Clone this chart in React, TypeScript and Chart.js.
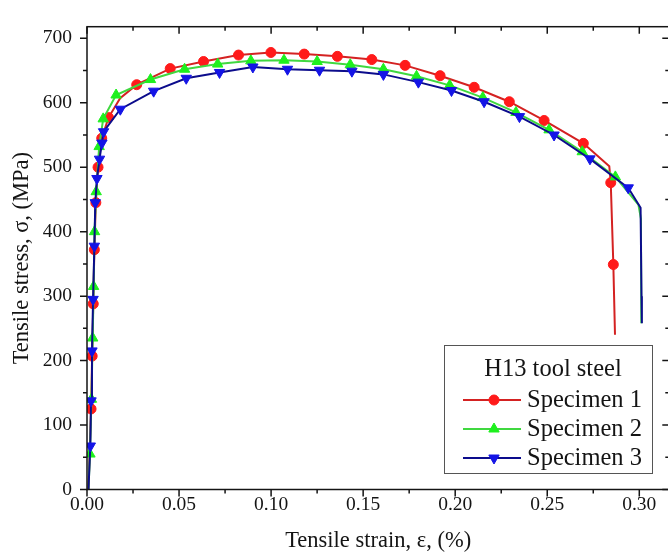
import React, { useEffect, useRef } from "react";
import { Chart, registerables } from "chart.js";

Chart.register(...registerables);

// ---------- data ----------
const xTicks = [0, 0.05, 0.1, 0.15, 0.2, 0.25, 0.3];
const xMinor = [0.025, 0.075, 0.125, 0.175, 0.225, 0.275];
const yTicks = [0, 100, 200, 300, 400, 500, 600, 700];
const yMinor = [50, 150, 250, 350, 450, 550, 650];

const xTitle = "Tensile strain, \u03b5, (%)";
const yTitle = "Tensile stress, \u03c3, (MPa)";
const legendTitle = "H13 tool steel";
const seriesNames = ["Specimen 1", "Specimen 2", "Specimen 3"];

// Specimen 1
const strain1 = [0.0008, 0.0022, 0.0028, 0.0034, 0.004, 0.0048, 0.006, 0.008, 0.0117, 0.018, 0.027, 0.0452, 0.0633, 0.0823, 0.0999, 0.118, 0.136, 0.1547, 0.1728, 0.1918, 0.2103, 0.2294, 0.2483, 0.2696, 0.2837, 0.2845, 0.2859, 0.2868];
const stress1 = [0, 125, 207, 288, 372, 445, 500, 545, 577, 607, 628, 653, 664, 674, 678, 675.5, 672, 667, 658, 642, 624, 601.6, 572.5, 537, 501.5, 476, 349, 240];
const plain1 = [0, 9, 24, 27];

// Specimen 2
const strain2 = [0.0008, 0.0016, 0.0024, 0.0031, 0.0036, 0.0041, 0.005, 0.0066, 0.0088, 0.0158, 0.0345, 0.053, 0.071, 0.089, 0.107, 0.125, 0.143, 0.161, 0.179, 0.197, 0.215, 0.233, 0.251, 0.269, 0.287, 0.2995, 0.3009, 0.3011];
const stress2 = [0, 55, 140, 235, 315, 400, 462, 532, 575, 612, 636, 652, 660, 665, 666, 664, 659, 652, 641, 627, 608, 585, 558, 524, 485, 442, 420, 258];
const plain2 = [0, 25, 26, 27];

// Specimen 3
const strain3 = [0.0008, 0.0018, 0.0022, 0.0027, 0.0033, 0.004, 0.0045, 0.0054, 0.0068, 0.0081, 0.009, 0.0181, 0.0362, 0.0539, 0.072, 0.0901, 0.1089, 0.1263, 0.1439, 0.161, 0.18, 0.198, 0.2157, 0.2349, 0.2537, 0.2732, 0.294, 0.3007, 0.3012, 0.3014];
const stress3 = [0, 67.5, 137.5, 215, 295, 377.5, 445, 482.5, 512.5, 537.5, 555, 590, 618, 638, 647, 655.5, 652, 650.5, 649, 644, 632, 619, 601.6, 578.5, 550, 513, 468, 437, 300, 258];
const plain3 = [0, 27, 28, 29];

const X_MAX = 0.3163;
const Y_MAX = 718;

const FONT = "'Liberation Serif', 'Times New Roman', serif";
const INK = "#141414";

type Spec = {
  name: string;
  xs: number[];
  ys: number[];
  plain: number[];
  line: string;
  mark: string;
  style: "circle" | "triangle";
  rot: number;
  r: number;
  order: number;
};

const specs: Spec[] = [
  { name: seriesNames[0], xs: strain1, ys: stress1, plain: plain1, line: "#d42222", mark: "#ff1a1a", style: "circle", rot: 0, r: 5, order: 3 },
  { name: seriesNames[1], xs: strain2, ys: stress2, plain: plain2, line: "#40d840", mark: "#1ef01e", style: "triangle", rot: 0, r: 6, order: 2 },
  { name: seriesNames[2], xs: strain3, ys: stress3, plain: plain3, line: "#0c0c8c", mark: "#1414e6", style: "triangle", rot: 180, r: 6, order: 1 },
];

function drawMarker(ctx: CanvasRenderingContext2D, s: Spec, x: number, y: number) {
  ctx.beginPath();
  if (s.style === "circle") {
    ctx.arc(x, y, s.r, 0, Math.PI * 2);
  } else {
    let rad = (s.rot * Math.PI) / 180;
    ctx.moveTo(x + Math.sin(rad) * s.r, y - Math.cos(rad) * s.r);
    rad += (2 * Math.PI) / 3;
    ctx.lineTo(x + Math.sin(rad) * s.r, y - Math.cos(rad) * s.r);
    rad += (2 * Math.PI) / 3;
    ctx.lineTo(x + Math.sin(rad) * s.r, y - Math.cos(rad) * s.r);
    ctx.closePath();
  }
  ctx.fillStyle = s.mark;
  ctx.strokeStyle = s.mark;
  ctx.lineWidth = 1;
  ctx.fill();
  ctx.stroke();
}

const framePlugin = {
  id: "frame",
  afterDatasetsDraw(chart: any) {
    const { ctx, chartArea: a, scales } = chart;
    const x = scales.x;
    const y = scales.y;
    ctx.save();
    ctx.strokeStyle = INK;
    ctx.lineWidth = 1.5;
    ctx.strokeRect(a.left, a.top, a.right - a.left, a.bottom - a.top);
    const MAJ = 7;
    const MIN = 4;
    ctx.beginPath();
    const xt = (vals: number[], len: number) => {
      vals.forEach((v) => {
        const px = x.getPixelForValue(v);
        ctx.moveTo(px, a.bottom);
        ctx.lineTo(px, a.bottom + len);
        ctx.moveTo(px, a.top);
        ctx.lineTo(px, a.top + len);
      });
    };
    const yt = (vals: number[], len: number) => {
      vals.forEach((v) => {
        const py = y.getPixelForValue(v);
        ctx.moveTo(a.left, py);
        ctx.lineTo(a.left - len, py);
        ctx.moveTo(a.right, py);
        ctx.lineTo(a.right - len, py);
      });
    };
    xt(xTicks, MAJ);
    xt(xMinor, MIN);
    yt(yTicks, MAJ);
    yt(yMinor, MIN);
    ctx.stroke();
    ctx.restore();
  },
  afterDraw(chart: any) {
    const { ctx } = chart;
    ctx.save();
    const bx = 444, by = 345, bw = 208, bh = 128;
    ctx.fillStyle = "#ffffff";
    ctx.fillRect(bx, by, bw, bh);
    ctx.strokeStyle = "#555555";
    ctx.lineWidth = 1;
    ctx.strokeRect(bx + 0.5, by + 0.5, bw, bh);
    ctx.fillStyle = INK;
    ctx.font = `24.5px ${FONT}`;
    ctx.textBaseline = "middle";
    ctx.textAlign = "center";
    ctx.fillText(legendTitle, 553, 370);
    ctx.textAlign = "left";
    specs.forEach((s, i) => {
      const ry = 400 + i * 29;
      ctx.strokeStyle = s.line;
      ctx.lineWidth = 2;
      ctx.beginPath();
      ctx.moveTo(463, ry);
      ctx.lineTo(521, ry);
      ctx.stroke();
      drawMarker(ctx, s, 494, ry);
      ctx.fillStyle = INK;
      ctx.font = `24.5px ${FONT}`;
      ctx.fillText(s.name, 527, ry + 1);
    });
    ctx.restore();
  },
};

export default function App() {
  const ref = useRef<HTMLCanvasElement | null>(null);

  useEffect(() => {
    if (!ref.current) return;
    const datasets = specs.map((s) => ({
      label: s.name,
      order: s.order,
      data: s.xs.map((v, i) => ({ x: v, y: s.ys[i] })),
      showLine: true,
      borderColor: s.line,
      borderWidth: 2,
      backgroundColor: s.mark,
      pointBackgroundColor: s.mark,
      pointBorderColor: s.mark,
      pointBorderWidth: 1,
      pointStyle: s.style,
      pointRotation: s.rot,
      pointRadius: (c: any) => (s.plain.includes(c.dataIndex) ? 0 : s.r),
      pointHoverRadius: (c: any) => (s.plain.includes(c.dataIndex) ? 0 : s.r),
      tension: 0,
    }));

    const chart = new Chart(ref.current, {
      type: "scatter",
      data: { datasets },
      plugins: [framePlugin],
      options: {
        animation: false,
        responsive: false,
        devicePixelRatio: 1,
        events: [],
        layout: { padding: { top: 13.3, right: 2.7, left: 0, bottom: 0 } },
        plugins: { legend: { display: false }, tooltip: { enabled: false } },
        scales: {
          x: {
            type: "linear",
            min: 0,
            max: X_MAX,
            afterFit: (s: any) => {
              s.height = 66.5;
            },
            afterBuildTicks: (s: any) => {
              s.ticks = xTicks.map((v) => ({ value: v }));
            },
            grid: { display: false, drawTicks: false, tickLength: 0 },
            border: { display: false },
            ticks: {
              padding: 4,
              color: INK,
              font: { family: FONT, size: 19.5 },
              callback: (v: any) => Number(v).toFixed(2),
              maxRotation: 0,
              autoSkip: false,
            },
            title: {
              display: true,
              text: xTitle,
              color: INK,
              font: { family: FONT, size: 22.5 },
              padding: { top: 0, bottom: 1.5 },
            },
          },
          y: {
            type: "linear",
            min: 0,
            max: Y_MAX,
            afterFit: (s: any) => {
              s.width = 87;
            },
            afterBuildTicks: (s: any) => {
              s.ticks = yTicks.map((v) => ({ value: v }));
            },
            grid: { display: false, drawTicks: false, tickLength: 0 },
            border: { display: false },
            ticks: {
              padding: 15,
              color: INK,
              font: { family: FONT, size: 19.5 },
              callback: (v: any) => String(v),
              autoSkip: false,
            },
            title: {
              display: true,
              text: yTitle,
              color: INK,
              font: { family: FONT, size: 22.5 },
              padding: { top: 8.5, bottom: 0 },
            },
          },
        },
      },
    });
    return () => chart.destroy();
  }, []);

  return (
    <div
      style={{
        position: "fixed",
        left: 0,
        top: 0,
        width: 668,
        height: 556,
        overflow: "hidden",
        background: "#ffffff",
      }}
    >
      <canvas ref={ref} width={672} height={556} style={{ display: "block", width: 672, height: 556 }} />
    </div>
  );
}
